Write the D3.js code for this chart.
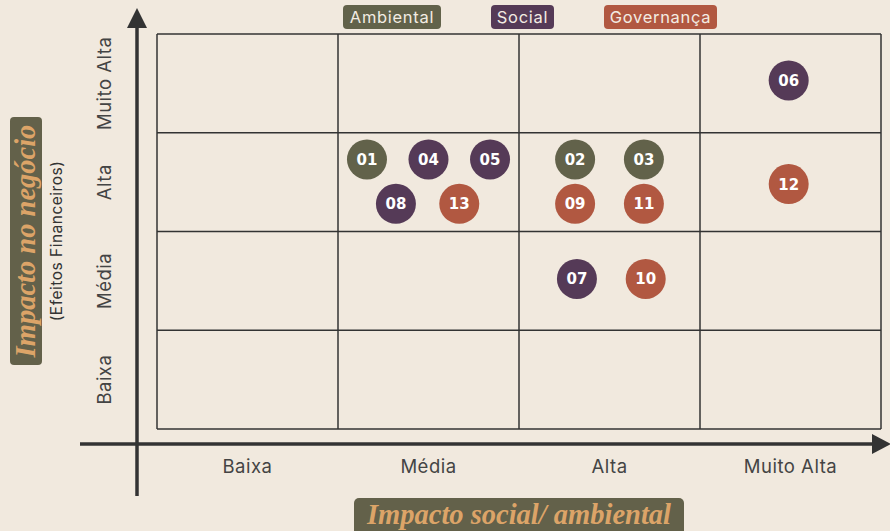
<!DOCTYPE html>
<html><head><meta charset="utf-8">
<script src="https://cdn.jsdelivr.net/npm/d3@7"></script>
<style>
body{margin:0;background:#f1e9de;}
svg{display:block;}
</style></head><body>
<svg id="chart" width="890" height="531"></svg>
<script>
const xCategories = ["Baixa","Média","Alta","Muito Alta"];
const yCategories = ["Baixa","Média","Alta","Muito Alta"];
const groups = ["Ambiental","Social","Governança"];
const groupColors = ["#62624a","#553a57","#b15841"];
const pointIds =    ["01","04","05","08","13","02","03","09","11","07","10","06","12"];
const pointGroups = ["Ambiental","Social","Social","Social","Governança","Ambiental","Ambiental","Governança","Governança","Social","Governança","Social","Governança"];
const pointX =      [1.16,1.50,1.84,1.32,1.67,2.31,2.69,2.31,2.69,2.32,2.70,3.49,3.49];
const pointY =      [2.73,2.73,2.73,2.28,2.28,2.73,2.73,2.28,2.28,1.52,1.52,3.53,2.48];

const svg = d3.select("#chart");
const W = 890, H = 531;
svg.append("rect").attr("width",W).attr("height",H).attr("fill","#f1e9de");

const x = d3.scaleLinear().domain([0,4]).range([157,881]);
const y = d3.scaleLinear().domain([0,4]).range([429,34]);
const color = d3.scaleOrdinal().domain(groups).range(groupColors);
const ink = "#333333";
const sans = "Inter, 'Noto Sans', sans-serif";

// grid
const g = svg.append("g");
d3.range(0,5).forEach(i=>{
  g.append("line").attr("x1",x(i)).attr("x2",x(i)).attr("y1",y(0)).attr("y2",y(4))
   .attr("stroke",ink).attr("stroke-width",1.5);
  g.append("line").attr("x1",x(0)).attr("x2",x(4)).attr("y1",y(i)).attr("y2",y(i))
   .attr("stroke",ink).attr("stroke-width",1.5);
});

// axes lines with arrows
svg.append("line").attr("x1",137).attr("x2",137).attr("y1",496).attr("y2",24)
  .attr("stroke",ink).attr("stroke-width",3.5);
svg.append("path").attr("d","M137,8 L127,28 L147,28 Z").attr("fill",ink);
svg.append("line").attr("x1",80).attr("x2",876).attr("y1",444).attr("y2",444)
  .attr("stroke",ink).attr("stroke-width",3.5);
svg.append("path").attr("d","M891,444 L872,434 L872,454 Z").attr("fill",ink);

// x tick labels
svg.append("g").selectAll("text").data(xCategories).join("text")
  .attr("x",(d,i)=>x(i+0.5)).attr("y",473)
  .attr("text-anchor","middle").attr("font-family",sans)
  .attr("font-size",18.5).attr("letter-spacing",0.5).attr("fill","#444").text(d=>d);

// y tick labels
svg.append("g").selectAll("text").data(yCategories).join("text")
  .attr("transform",(d,i)=>`translate(111,${y(i+0.5)}) rotate(-90)`)
  .attr("text-anchor","middle").attr("font-family",sans)
  .attr("font-size",18.5).attr("letter-spacing",0.5).attr("fill","#444").text(d=>d);

// legend
const legendBoxes = [[343,98],[491,63],[604,113]];
const lg = svg.append("g");
groups.forEach((gname,i)=>{
  const [lx,lw] = legendBoxes[i];
  lg.append("rect").attr("x",lx).attr("y",5).attr("width",lw).attr("height",24).attr("rx",4)
    .attr("fill",color(gname));
  lg.append("text").attr("x",lx+lw/2).attr("y",23).attr("text-anchor","middle")
    .attr("font-family",sans).attr("font-size",16.5).attr("letter-spacing",0.7)
    .attr("fill","#f3ece3").text(gname);
});

// points
const pts = svg.append("g").selectAll("g").data(pointIds).join("g")
  .attr("transform",(d,i)=>`translate(${x(pointX[i])},${y(pointY[i])})`);
pts.append("circle").attr("r",20).attr("fill",(d,i)=>color(pointGroups[i]));
pts.append("text").attr("text-anchor","middle").attr("dy","0.36em")
  .attr("font-family","'DejaVu Sans', sans-serif").attr("font-weight","bold")
  .attr("font-size",15).attr("fill","#ffffff").text(d=>d);

// y title
svg.append("rect").attr("x",10).attr("y",117).attr("width",32).attr("height",248).attr("rx",4)
  .attr("fill","#63614a");
svg.append("text").attr("transform","translate(35,241) rotate(-90)")
  .attr("text-anchor","middle").attr("font-family","'Liberation Serif', 'DejaVu Serif', serif")
  .attr("font-style","italic").attr("font-weight","bold").attr("font-size",28.5)
  .attr("fill","#dca468").text("Impacto no negócio");
svg.append("text").attr("transform","translate(62,241) rotate(-90)")
  .attr("text-anchor","middle").attr("font-family",sans)
  .attr("font-size",15.5).attr("letter-spacing",0.5).attr("fill","#333").text("(Efeitos Financeiros)");

// x title
svg.append("rect").attr("x",354).attr("y",498).attr("width",330).attr("height",40).attr("rx",5)
  .attr("fill","#63614a");
svg.append("text").attr("x",519).attr("y",524).attr("text-anchor","middle")
  .attr("font-family","'Liberation Serif', 'DejaVu Serif', serif")
  .attr("font-style","italic").attr("font-weight","bold").attr("font-size",28.5)
  .attr("fill","#dca468").text("Impacto social/ ambiental");
</script>
</body></html>
